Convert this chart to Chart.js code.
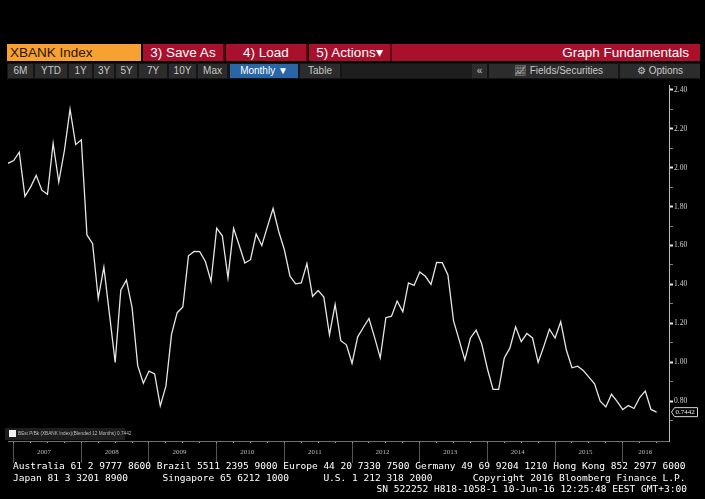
<!DOCTYPE html>
<html><head><meta charset="utf-8">
<script src="https://cdn.jsdelivr.net/npm/chart.js@4"></script>
<style>
html,body{margin:0;padding:0;background:#000;width:705px;height:499px;overflow:hidden;}
.a{position:absolute;box-sizing:border-box;white-space:nowrap;}
.r1{top:44px;height:17px;line-height:17px;font-family:"Liberation Sans",Arial,sans-serif;font-size:13.5px;color:#fff;}
.red{background:#a8102c;text-align:center;border-right:2px solid #5a0614;}
.r2{top:64px;height:14px;line-height:14px;font-family:"Liberation Sans",Arial,sans-serif;font-size:10px;color:#c8c8c8;background:#2c2c2c;text-align:center;}
.ft{left:13px;font-family:"DejaVu Sans Mono",monospace;font-size:9.56px;line-height:11px;color:#fff;white-space:pre;}
</style></head><body>
<div class="a r1" style="left:7px;width:134px;background:#f8a133;color:#2a1600;padding-left:3px;">XBANK Index</div>
<div class="a r1 red" style="left:143px;width:82px;">3) Save As</div>
<div class="a r1 red" style="left:226px;width:82px;">4) Load</div>
<div class="a r1 red" style="left:309px;width:83px;">5) Actions▾</div>
<div class="a r1" style="left:392px;width:308px;background:#a8102c;text-align:right;padding-right:11px;">Graph Fundamentals</div>
<div class="a" style="left:7px;top:63px;width:693px;height:16px;background:#151515;"></div>
<div class="a r2" style="left:8px;width:25px;">6M</div>
<div class="a r2" style="left:35px;width:32px;">YTD</div>
<div class="a r2" style="left:69px;width:23px;">1Y</div>
<div class="a r2" style="left:94px;width:20px;">3Y</div>
<div class="a r2" style="left:116px;width:21px;">5Y</div>
<div class="a r2" style="left:139px;width:28px;">7Y</div>
<div class="a r2" style="left:169px;width:27px;">10Y</div>
<div class="a r2" style="left:198px;width:29px;">Max</div>
<div class="a r2" style="left:230px;width:68px;background:#2a65a6;color:#fff;">Monthly ▼</div>
<div class="a r2" style="left:300px;width:40px;">Table</div>
<div class="a r2" style="left:342px;width:130px;background:#1e1e1e;"></div>
<div class="a r2" style="left:472px;width:15px;">«</div>
<div class="a r2" style="left:489px;width:129px;padding-left:10px;">📈&#xFE0E; Fields/Securities</div>
<div class="a r2" style="left:620px;width:80px;">⚙ Options</div>

<div class="a" style="left:0;top:80px;width:705px;height:390px;"><canvas id="c" width="705" height="390"></canvas></div>

<div class="a" style="left:5px;top:428px;width:120px;height:12px;background:#1d1d1d;"></div>
<div class="a" style="left:9px;top:430px;width:7px;height:7px;background:#f2f2f2;"></div>
<div class="a" style="left:18px;top:428px;height:12px;line-height:12px;font-family:'Liberation Sans',Arial,sans-serif;font-size:4.7px;color:#bdbdbd;">BEst P/Bk (XBANK Index)(Blended 12 Months) 0.7442</div>

<div class="a ft" style="top:460px;">Australia 61 2 9777 8600 Brazil 5511 2395 9000 Europe 44 20 7330 7500 Germany 49 69 9204 1210 Hong Kong 852 2977 6000</div>
<div class="a ft" style="top:472px;">Japan 81 3 3201 8900      Singapore 65 6212 1000      U.S. 1 212 318 2000       Copyright 2016 Bloomberg Finance L.P.</div>
<div class="a ft" style="top:483px;left:auto;right:18px;">SN 522252 H818-1058-1 10-Jun-16 12:25:48 EEST GMT+3:00</div>

<script>
// Monthly BEst P/Bk (XBANK Index), Nov 2006 .. Jun 2016
const values = [
  2.022, 2.036, 2.079, 1.853, 1.90, 1.96, 1.884, 1.863, 2.125, 1.926,
  2.087, 2.30, 2.118, 2.143, 1.654, 1.609, 1.328, 1.489, 1.245, 1.00,
  1.371, 1.422, 1.281, 0.983, 0.893, 0.955, 0.941, 0.776, 0.878, 1.145,
  1.255, 1.284, 1.547, 1.569, 1.568, 1.518, 1.416, 1.689, 1.650, 1.435,
  1.688, 1.60, 1.510, 1.527, 1.659, 1.60, 1.697, 1.790, 1.672, 1.578,
  1.442, 1.403, 1.408, 1.507, 1.339, 1.369, 1.335, 1.141, 1.298, 1.111,
  1.09, 0.995, 1.131, 1.179, 1.225, 1.128, 1.023, 1.229, 1.237, 1.315,
  1.26, 1.408, 1.395, 1.464, 1.442, 1.40, 1.513, 1.512, 1.449, 1.213,
  1.114, 1.012, 1.125, 1.165, 1.094, 0.967, 0.861, 0.861, 1.023, 1.074,
  1.182, 1.106, 1.148, 1.125, 1.00, 1.082, 1.170, 1.125, 1.208, 1.063,
  0.972, 0.980, 0.958, 0.924, 0.890, 0.80, 0.771, 0.836, 0.80, 0.757,
  0.778, 0.763, 0.819, 0.852, 0.758, 0.7442
];
const lastLabel = '0.7442';
const yearLabels = ['2007','2008','2009','2010','2011','2012','2013','2014','2015','2016'];
const yearStarts = [1, 13, 25, 37, 49, 61, 73, 85, 97, 109];      // month index of each year boundary
const yearCenters = [6.4, 18.4, 30.4, 42.4, 54.4, 66.4, 78.4, 90.4, 102.4, 113];
const quarterTicks = [1,4,7,10,13,16,19,22,25,28,31,34,37,40,43,46,49,52,55,58,61,64,67,70,73,76,79,82,85,88,91,94,97,100,103,106,109,112,115];
const yTickValues = [0.7,0.8,0.9,1.0,1.1,1.2,1.3,1.4,1.5,1.6,1.7,1.8,1.9,2.0,2.1,2.2,2.3,2.4];
const yTickLabels = ['','0.80','','1.00','','1.20','','1.40','','1.60','','1.80','','2.00','','2.20','','2.40'];

const tagPlugin = {
  id: 'tag',
  afterDraw(c) {
    const ctx = c.ctx;
    const y = c.scales.y.getPixelForValue(values[values.length - 1]);
    const x = c.chartArea.right + 3;
    ctx.save();
    ctx.fillStyle = '#000';
    ctx.strokeStyle = '#d8d8d8';
    ctx.lineWidth = 1;
    ctx.beginPath();
    ctx.moveTo(x + 2.5, y - 4.5);
    ctx.lineTo(x + 25.5, y - 4.5);
    ctx.lineTo(x + 25.5, y + 4.5);
    ctx.lineTo(x + 2.5, y + 4.5);
    ctx.lineTo(x - 0.5, y);
    ctx.closePath();
    ctx.fill();
    ctx.stroke();
    ctx.fillStyle = '#eee';
    ctx.font = '7px "Liberation Serif", serif';
    ctx.textBaseline = 'middle';
    ctx.fillText(lastLabel, x + 3.5, y + 0.5);
    ctx.restore();
  }
};

new Chart(document.getElementById('c'), {
  type: 'line',
  data: {
    datasets: [{
      data: values.map((v, i) => ({x: i, y: v})),
      borderColor: '#e6e6e6',
      borderWidth: 1.3,
      pointRadius: 0,
      tension: 0,
      fill: false
    }]
  },
  options: {
    responsive: false,
    animation: false,
    events: [],
    layout: {padding: {left: 8, top: 3, right: 0, bottom: 0}},
    plugins: {legend: {display: false}, tooltip: {enabled: false}},
    scales: {
      x: {
        type: 'linear', position: 'bottom', min: 0, max: 117.2,
        afterBuildTicks: s => { s.ticks = yearStarts.concat(yearCenters).map(v => ({value: v})); },
        afterFit: s => { s.height = 29; },
        ticks: {
          autoSkip: false, maxRotation: 0, minRotation: 0, padding: -15,
          color: '#b8b8b8', font: {family: '"Liberation Serif", serif', size: 7},
          callback: v => { const i = yearCenters.indexOf(v); return i >= 0 ? yearLabels[i] : ''; }
        },
        grid: {
          drawOnChartArea: false, tickLength: 22, tickWidth: 1,
          tickColor: c => (c.tick && yearStarts.includes(c.tick.value)) ? '#555' : 'rgba(0,0,0,0)'
        },
        border: {color: '#6e6e6e', width: 1}
      },
      xq: {
        type: 'linear', position: {y: 0.596}, min: 0, max: 117.2,
        afterBuildTicks: s => { s.ticks = quarterTicks.map(v => ({value: v})); },
        ticks: {display: false},
        grid: {drawOnChartArea: false, tickLength: 2, tickWidth: 1, tickColor: '#9a9a9a'},
        border: {display: false}
      },
      y: {
        type: 'linear', position: 'right', min: 0.596, max: 2.4216,
        afterBuildTicks: s => { s.ticks = yTickValues.map(v => ({value: v})); },
        afterFit: s => { s.width = 36; },
        ticks: {
          autoSkip: false, padding: 1, color: '#cfcfcf',
          font: {family: '"Liberation Serif", serif', size: 7.5},
          callback: (v, i) => yTickLabels[i]
        },
        grid: {
          drawOnChartArea: false, tickLength: 4,
          tickWidth: c => (c.index % 2 === 1) ? 2 : 1,
          tickColor: c => (c.index % 2 === 1) ? '#e8e8e8' : '#7a7a7a'
        },
        border: {color: '#bdbdbd', width: 1}
      }
    }
  },
  plugins: [tagPlugin]
});
</script>
</body></html>
